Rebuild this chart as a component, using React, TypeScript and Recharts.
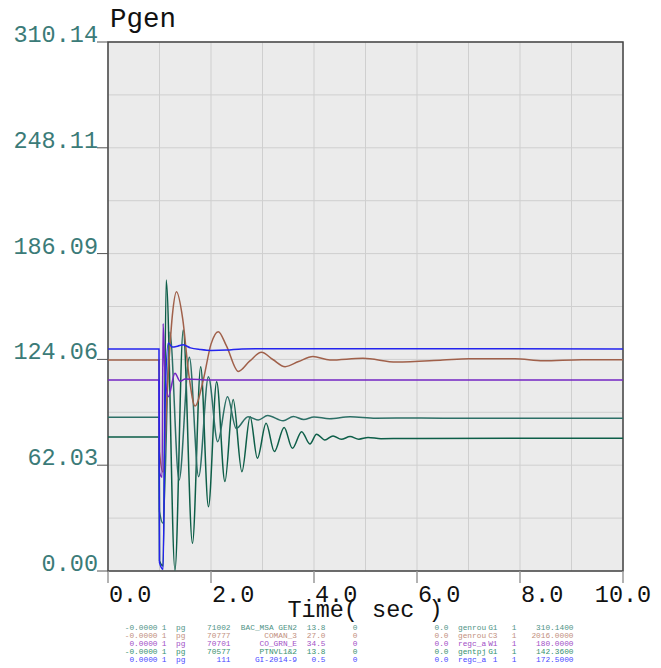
import { LineChart, Line, XAxis, YAxis, CartesianGrid, ReferenceArea } from 'recharts'

/* ── Data (time in sec, Pgen in MW) ── */

type Pt = [number, number]

const timeTicks = [0, 1, 2, 3, 4, 5, 6, 7, 8, 9, 10]
const timeLabels = ['0.0', '', '2.0', '', '4.0', '', '6.0', '', '8.0', '', '10.0']

const pgenTicks = [0, 31.015, 62.03, 93.045, 124.06, 155.075, 186.09, 217.1, 248.11, 279.125, 310.14]
const pgenLabels = ['0.00', '', '62.03', '', '124.06', '', '186.09', '', '248.11', '', '310.14']

// 70577 PTNVL1&2 (lower green)
const ptnvl: Pt[] = [
  [0, 78.5], [0.99, 78.5], [1.0, 6], [1.07, 3], [1.13, 170.6], [1.3, 0.5], [1.46, 141.3],
  [1.64, 16.2], [1.8, 119.8], [1.95, 37.7], [2.11, 111], [2.27, 52.4], [2.43, 100.5],
  [2.6, 58.2], [2.76, 90.5], [2.9, 66.1], [3.07, 86.6], [3.23, 70], [3.42, 84.2],
  [3.58, 71.9], [3.76, 81.7], [3.92, 74.5], [4.05, 80.2], [4.21, 76.8], [4.37, 79.2],
  [4.53, 77.2], [4.7, 78.8], [4.87, 77.3], [5.05, 78.3], [5.3, 77.6], [6, 77.7], [10, 77.8],
]

// 71002 BAC_MSA GEN2 (upper teal)
const bacMsa: Pt[] = [
  [0, 90.1], [0.99, 90.1], [1.0, 35], [1.07, 28], [1.2, 140], [1.38, 53.3], [1.58, 125.3],
  [1.76, 55.3], [1.95, 113.9], [2.13, 75.8], [2.32, 102.2], [2.49, 83.6], [2.72, 90.5],
  [2.92, 88.5], [3.1, 91.2], [3.4, 88.1], [3.6, 90.6], [3.8, 88.8], [4.0, 90.3],
  [4.3, 89.3], [4.7, 90.4], [5.2, 89.6], [6, 89.7], [7, 89.5], [8, 89.6], [10, 89.6],
]

// 70777 COMAN_3 (brown)
const coman3: Pt[] = [
  [0, 123.7], [0.99, 123.7], [1.0, 70], [1.07, 58], [1.15, 105], [1.25, 150], [1.33, 163.7],
  [1.45, 148], [1.57, 115], [1.69, 96.7], [1.85, 112], [2.0, 133], [2.14, 140.3],
  [2.3, 132], [2.53, 117], [2.75, 123], [2.98, 128.2], [3.2, 124], [3.44, 119.8],
  [3.7, 122.8], [3.98, 125.7], [4.31, 123.7], [4.95, 124.7], [5.6, 122.5], [6.5, 123.7],
  [7.0, 124.5], [7.9, 124.5], [8.45, 123.3], [9.2, 123.9], [10, 123.8],
]

// 70701 CO_GRN_E (purple)
const coGrnE: Pt[] = [
  [0, 112], [0.99, 112], [1.0, 58], [1.05, 55], [1.07, 145], [1.1, 120], [1.17, 102.2],
  [1.3, 115.9], [1.4, 111.2], [1.5, 112.6], [2, 112], [10, 112],
]

// 111 GI-2014-9 (blue)
const gi2014: Pt[] = [
  [0, 130.2], [0.99, 130.2], [1.0, 5], [1.07, 1], [1.11, 100], [1.17, 133.6], [1.25, 131.3],
  [1.35, 131.8], [1.46, 132.6], [1.6, 130.8], [1.8, 129.8], [2.0, 129.3], [2.3, 129.5],
  [2.6, 130.2], [3.0, 130.3], [10, 130.2],
]

const SERIES = [
  { key: 'ptnvl', pts: ptnvl, color: '#0d5e48' },
  { key: 'bacMsa', pts: bacMsa, color: '#2c6f66' },
  { key: 'coman3', pts: coman3, color: '#a0604a' },
  { key: 'coGrnE', pts: coGrnE, color: '#7426c4' },
  { key: 'gi2014', pts: gi2014, color: '#2424ee' },
]

/* ── Channel legend rows ── */

const legendRows = [
  ['-0.0000', '1', 'pg', '71002', 'BAC_MSA GEN2', '13.8', '0', '0.0', 'genrou', 'G1', '1', '310.1400'],
  ['-0.0000', '1', 'pg', '70777', 'COMAN_3', '27.0', '0', '0.0', 'genrou', 'C3', '1', '2016.0000'],
  ['0.0000', '1', 'pg', '70701', 'CO_GRN_E', '34.5', '0', '0.0', 'regc_a', 'W1', '1', '180.0000'],
  ['-0.0000', '1', 'pg', '70577', 'PTNVL1&2', '13.8', '0', '0.0', 'gentpj', 'G1', '1', '142.3600'],
  ['0.0000', '1', 'pg', '111', 'GI-2014-9', '0.5', '0', '0.0', 'regc_a', '1', '1', '172.5000'],
]
const legendColors = ['#4f9486', '#c2907e', '#a24fc6', '#36926f', '#4a4aff']
const legendCols: [number, 'start' | 'middle' | 'end'][] = [
  [157.5, 'end'], [164, 'middle'], [176, 'start'], [230.5, 'end'], [297, 'end'], [325.5, 'end'],
  [355, 'middle'], [448.5, 'end'], [458, 'start'], [497.5, 'end'], [514, 'middle'], [573.5, 'end'],
]

const MONO = '"Liberation Mono", "DejaVu Sans Mono", monospace'

function YTick({ x, y, index }: any) {
  const label = pgenLabels[index]
  if (!label) return null
  return (
    <g>
      <line x1={x - 11} x2={x} y1={y} y2={y} stroke="#555" strokeWidth={1} />
      <text x={x - 10} y={y} textAnchor="end" fontFamily={MONO} fontSize={23.5} fill="#3b7b78">
        {label}
      </text>
    </g>
  )
}

function XTick({ x, y, index }: any) {
  const label = timeLabels[index]
  if (!label) return null
  const last = index === timeTicks.length - 1
  return (
    <g>
      <line x1={x} x2={x} y1={y} y2={y + 12} stroke="#999" strokeWidth={1.5} />
      <text x={last ? x : x + 1} y={y + 31} textAnchor={last ? 'middle' : 'start'} fontFamily={MONO} fontSize={23.5} fill="#111">
        {label}
      </text>
    </g>
  )
}

export default function App() {
  return (
    <div style={{ position: 'absolute', left: 0, top: 0, width: 661, height: 668, background: '#fff' }}>
      <LineChart width={661} height={668} margin={{ top: 42, right: 38, bottom: 0, left: 0 }}>
        <CartesianGrid stroke="#cfcfcf" fill="#ebebeb" />
        <XAxis
          type="number"
          dataKey="t"
          domain={[0, 10]}
          ticks={timeTicks}
          height={97}
          axisLine={false}
          tickLine={false}
          tickSize={0}
          tickMargin={0}
          tick={<XTick />}
          interval={0}
          allowDataOverflow
        />
        <YAxis
          type="number"
          domain={[0, 310.14]}
          ticks={pgenTicks}
          width={108}
          axisLine={false}
          tickLine={false}
          tickSize={0}
          tickMargin={0}
          tick={<YTick />}
          interval={0}
          allowDataOverflow
        />
        {SERIES.map(s => (
          <Line
            key={s.key}
            data={s.pts.map(([t, v]) => ({ t, v }))}
            dataKey="v"
            type="monotone"
            stroke={s.color}
            strokeWidth={1.5}
            dot={false}
            activeDot={false}
            isAnimationActive={false}
          />
        ))}
        <ReferenceArea x1={0} x2={10} y1={0} y2={310.14} fill="none" stroke="#444" strokeWidth={1.5} />
      </LineChart>
      <svg width={661} height={668} style={{ position: 'absolute', left: 0, top: 0, pointerEvents: 'none' }}>
        <text x={110} y={26.5} fontFamily={MONO} fontSize={27.5} fill="#111">Pgen</text>
        <text x={365} y={617} textAnchor="middle" fontFamily={MONO} fontSize={23.5} fill="#111">Time( sec )</text>
        {legendRows.map((row, r) => (
          <g key={r} fill={legendColors[r]} fontFamily={MONO} fontSize={7.8}>
            {row.map((cell, c) => (
              <text key={c} x={legendCols[c][0]} y={630 + r * 8} textAnchor={legendCols[c][1]}>
                {cell}
              </text>
            ))}
          </g>
        ))}
      </svg>
    </div>
  )
}
